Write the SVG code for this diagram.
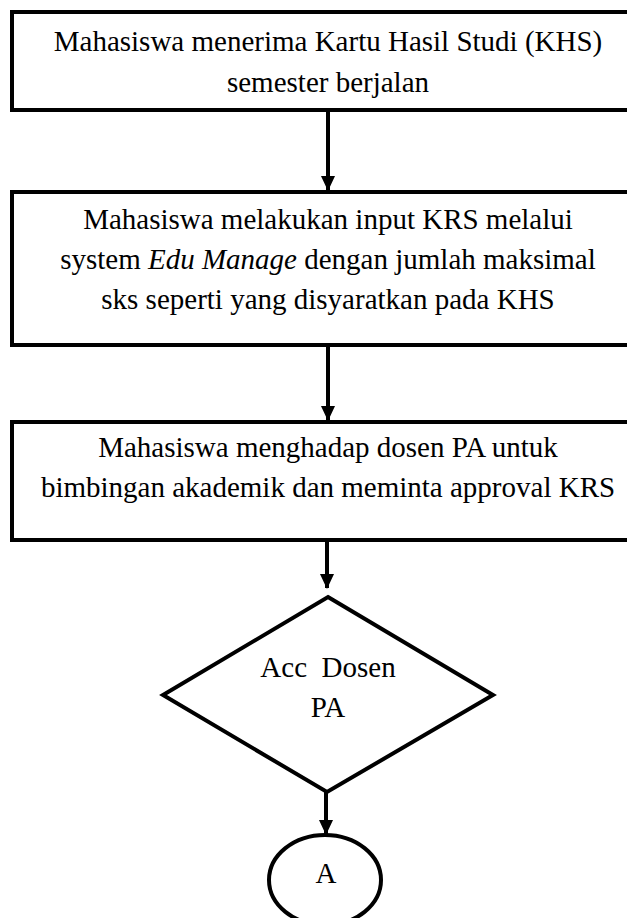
<svg xmlns="http://www.w3.org/2000/svg" width="627" height="918" viewBox="0 0 627 918">
<style>
.s{fill:#fff;stroke:#000;stroke-width:4}
.t{font-family:"Liberation Serif","Times New Roman",serif;font-size:29px;fill:#000;text-anchor:middle}
.c{stroke:#000;stroke-width:4;fill:none}
</style>
<defs>
<marker id="ah" markerUnits="userSpaceOnUse" markerWidth="16" markerHeight="18" refX="8" refY="16" orient="auto-start-reverse" viewBox="0 0 16 18">
<path d="M0,0 L16,0 L8,17 Z" fill="#000" transform="rotate(0)"/>
</marker>
<marker id="ad" markerUnits="userSpaceOnUse" markerWidth="16" markerHeight="18" refX="16" refY="8" orient="auto" viewBox="0 0 18 16">
<path d="M0,0 L17,8 L0,16 Z" fill="#000"/>
</marker>
</defs>
<rect width="627" height="918" fill="#fff"/>
<g id="connectors">
<line class="c" x1="328" y1="110" x2="328" y2="190" marker-end="url(#ad)"/>
<line class="c" x1="328" y1="345" x2="328" y2="420" marker-end="url(#ad)"/>
<line class="c" x1="327" y1="540" x2="327" y2="588" marker-end="url(#ad)"/>
<line class="c" x1="326" y1="792" x2="326" y2="834" marker-end="url(#ad)"/>
</g>
<g id="n1">
<rect class="s" x="12" y="12" width="640" height="98"/>
<text class="t" x="328" y="51">Mahasiswa menerima Kartu Hasil Studi (KHS)</text>
<text class="t" x="328" y="92">semester berjalan</text>
</g>
<g id="n2">
<rect class="s" x="12" y="192" width="640" height="153"/>
<text class="t" x="328" y="229">Mahasiswa melakukan input KRS melalui</text>
<text class="t" x="328" y="269">system <tspan font-style="italic">Edu Manage</tspan> dengan jumlah maksimal</text>
<text class="t" x="328" y="309">sks seperti yang disyaratkan pada KHS</text>
</g>
<g id="n3">
<rect class="s" x="12" y="422" width="640" height="118"/>
<text class="t" x="328" y="457">Mahasiswa menghadap dosen PA untuk</text>
<text class="t" x="328" y="497">bimbingan akademik dan meminta approval KRS</text>
</g>
<g id="n4">
<polygon class="s" points="328,597 493,695 327,792 163,695"/>
<text class="t" x="328" y="677" xml:space="preserve">Acc  Dosen</text>
<text class="t" x="328" y="717">PA</text>
</g>
<g id="n5">
<ellipse class="s" cx="325" cy="880" rx="56" ry="45"/>
<text class="t" x="326" y="883">A</text>
</g>
</svg>
